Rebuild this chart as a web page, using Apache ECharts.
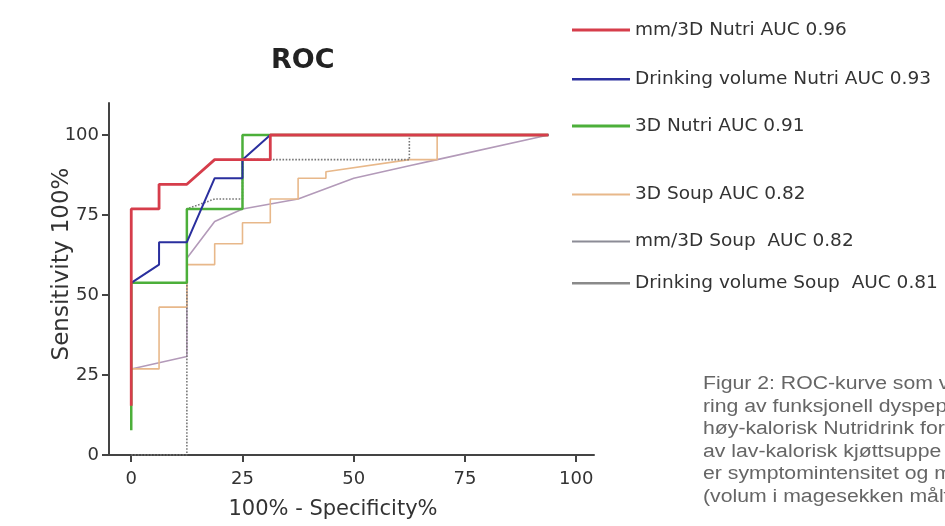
<!DOCTYPE html>
<html><head><meta charset="utf-8">
<script src="https://cdn.jsdelivr.net/npm/echarts@6/dist/echarts.min.js"></script>
<style>html,body{margin:0;padding:0;background:#fff}#c{width:945px;height:526px}</style>
</head><body><div id="c"></div>
<script>
// Tick labels
const xTicks = [0, 25, 50, 75, 100];
const yTicks = [0, 25, 50, 75, 100];
// Series names (legend order)
const names = [
  'mm/3D Nutri AUC 0.96',
  'Drinking volume Nutri AUC 0.93',
  '3D Nutri AUC 0.91',
  '3D Soup AUC 0.82',
  'mm/3D Soup  AUC 0.82',
  'Drinking volume Soup  AUC 0.81'
];
// [100% - Specificity%, Sensitivity%]
const mmNutri = [[0,15.4],[0,76.9],[6.25,76.9],[6.25,84.6],[12.5,84.6],[18.75,92.3],[31.25,92.3],[31.25,100],[93.75,100]];
const drinkNutri = [[0,53.8],[6.25,59.5],[6.25,66.5],[12.5,66.5],[18.75,86.5],[25,86.5],[25,92.3],[31.25,100],[93.75,100]];
const nutri3D = [[0,7.7],[0,53.8],[12.5,53.8],[12.5,76.9],[25,76.9],[25,100],[93.75,100]];
const soup3D = [[0,26.9],[6.25,26.9],[6.25,46.2],[12.5,46.2],[12.5,59.5],[18.75,59.5],[18.75,66],[25,66],[25,72.6],[31.25,72.6],[31.25,80],[37.5,80],[37.5,86.5],[43.75,86.5],[43.75,88.5],[62.5,92.3],[68.75,92.3],[68.75,100],[93.75,100]];
const mmSoup = [[0,26.9],[6.25,28.8],[12.5,30.8],[12.5,61.5],[18.75,73],[25,76.9],[37.5,80],[50,86.5],[62.5,90.4],[68.75,92.3],[93.75,100]];
const drinkSoup = [[0,0],[12.5,0],[12.5,76.9],[18.75,80],[25,80],[25,92.3],[62.5,92.3],[62.5,100],[93.75,100]];

const colors = ['#d63d4b', '#2a2f9e', '#4caf3a', '#e8b88a', '#b39ab9', '#777777'];
const legendColors = ['#d63d4b', '#2a2f9e', '#4caf3a', '#e8b88a', '#8c8c96', '#8a8a8a'];
const widths = [2.8, 2, 2.5, 1.6, 1.6, 1.6];
const dataSets = [mmNutri, drinkNutri, nutri3D, soup3D, mmSoup, drinkSoup];
const lineTypes = ['solid','solid','solid','solid','solid','dotted'];
const drawOrder = [4, 3, 5, 2, 1, 0];

const legendCenters = [29, 78, 125, 193, 240, 282];
const legendIconH = [3, 2.5, 3, 2, 2, 2.5];
const font = 'DejaVu Sans';

const chart = echarts.init(document.getElementById('c'), null, {renderer: 'canvas'});
const series = drawOrder.map(i => ({
  name: names[i], type: 'line', data: dataSets[i], symbol: 'none',
  lineStyle: {color: colors[i], width: widths[i], type: lineTypes[i]},
  itemStyle: {color: legendColors[i]}, z: 2 + drawOrder.indexOf(i), animation: false
}));

const captionLines = [
  'Figur 2: ROC-kurve som viser',
  'ring av funksjonell dyspepsi',
  'høy-kalorisk Nutridrink for',
  'av lav-kalorisk kjøttsuppe',
  'er symptomintensitet og mål',
  '(volum i magesekken målt'
];
const captionY = [384, 406.5, 429, 451.5, 474, 496.5];

chart.setOption({
  animation: false,
  backgroundColor: '#fff',
  title: {text: 'ROC', left: 266, top: 42, textStyle: {fontFamily: font, fontSize: 27, fontWeight: 'bold', color: '#222'}},
  grid: {left: 109, right: 351, top: 103, bottom: 71, containLabel: false},
  xAxis: {
    type: 'value', min: -5, max: 104, position: 'bottom',
    splitLine: {show: false},
    axisLine: {onZero: false, lineStyle: {color: '#444', width: 2}},
    axisTick: {customValues: xTicks, length: 7, lineStyle: {color: '#444', width: 2}},
    axisLabel: {customValues: xTicks, fontFamily: font, fontSize: 18, color: '#333', margin: 15}
  },
  yAxis: {
    type: 'value', min: 0, max: 110,
    splitLine: {show: false},
    axisLine: {show: true, onZero: false, lineStyle: {color: '#444', width: 2}},
    axisTick: {show: true, customValues: yTicks, length: 7, lineStyle: {color: '#444', width: 2}},
    axisLabel: {customValues: yTicks, fontFamily: font, fontSize: 18, color: '#333', margin: 10}
  },
  legend: names.map((n, i) => ({
    data: [n], orient: 'vertical', left: 567, top: legendCenters[i] - 7 - legendIconH[i] / 2,
    icon: 'rect', itemWidth: 58, itemHeight: legendIconH[i], itemGap: 6, selectedMode: false,
    padding: [0, 5],
    textStyle: {fontFamily: font, fontSize: 18.5, color: '#333'}
  })),
  graphic: [
    {type: 'text', x: 62, y: 264, rotation: Math.PI / 2,
     style: {text: 'Sensitivity 100%', font: '23px "DejaVu Sans"', fill: '#333', textAlign: 'center', textVerticalAlign: 'middle'}},
    {type: 'text', x: 333, y: 510, style: {text: '100% - Specificity%', font: '21px "DejaVu Sans"', fill: '#333', textAlign: 'center', textVerticalAlign: 'middle'}}
  ].concat(captionLines.map((t, i) => ({
    type: 'text', x: 703, y: captionY[i], scaleX: 1.13,
    style: {text: t, font: '18.8px "Liberation Sans", Arial, sans-serif', fill: '#666', textVerticalAlign: 'middle'}
  }))),
  series: series
});
</script>
</body></html>
